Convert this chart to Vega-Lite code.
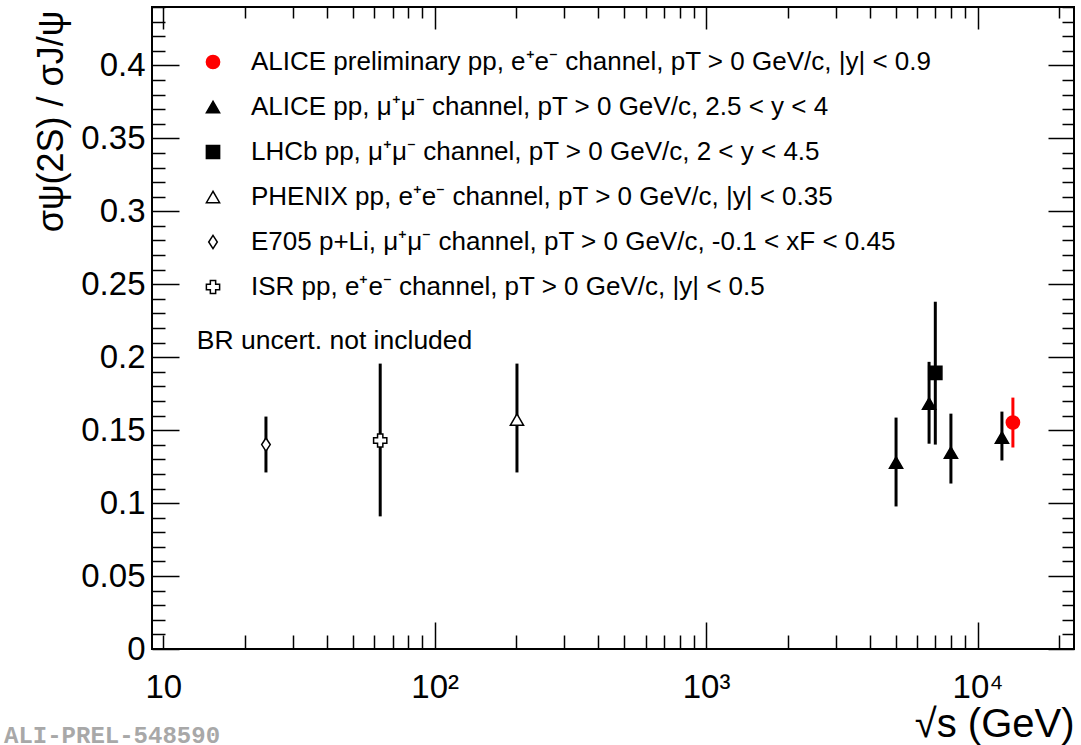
{
  "$schema": "https://vega.github.io/schema/vega-lite/v6.json",
  "width": 922,
  "height": 642,
  "autosize": {"type": "none"},
  "padding": {"left": 152, "top": 7, "right": 7, "bottom": 96},
  "background": "white",
  "config": {
    "font": "Liberation Sans",
    "view": {"stroke": "black", "strokeWidth": 2},
    "axis": {
      "domain": false, "grid": false, "labelFont": "Liberation Sans", "titleFont": "Liberation Sans",
      "tickColor": "black", "tickWidth": 1.5, "labelColor": "black", "titleColor": "black",
      "titleFontWeight": "normal", "labelFlush": false, "labelOverlap": false, "labelBound": false
    }
  },
  "title": {
    "text": "ALI-PREL-548590", "orient": "bottom", "anchor": "start", "frame": "group",
    "font": "Liberation Mono", "fontWeight": "bold", "fontSize": 24, "color": "#a8a8a8",
    "dx": -148, "offset": -20
  },
  "data": {
    "values": [
      {"series": "ALICE preliminary pp, e⁺e⁻ channel, pT > 0 GeV/c, |y| < 0.9", "sqrt_s": 13500, "ratio": 0.1552, "lo": 0.1381, "hi": 0.1723},
      {"series": "ALICE pp, μ⁺μ⁻ channel, pT > 0 GeV/c, 2.5 < y < 4", "sqrt_s": 5010, "ratio": 0.1278, "lo": 0.0977, "hi": 0.1586},
      {"series": "ALICE pp, μ⁺μ⁻ channel, pT > 0 GeV/c, 2.5 < y < 4", "sqrt_s": 6630, "ratio": 0.1682, "lo": 0.1407, "hi": 0.1968},
      {"series": "ALICE pp, μ⁺μ⁻ channel, pT > 0 GeV/c, 2.5 < y < 4", "sqrt_s": 7980, "ratio": 0.1346, "lo": 0.1134, "hi": 0.1613},
      {"series": "ALICE pp, μ⁺μ⁻ channel, pT > 0 GeV/c, 2.5 < y < 4", "sqrt_s": 12300, "ratio": 0.1449, "lo": 0.1292, "hi": 0.1627},
      {"series": "LHCb pp, μ⁺μ⁻ channel, pT > 0 GeV/c, 2 < y < 4.5", "sqrt_s": 6990, "ratio": 0.1892, "lo": 0.1401, "hi": 0.2380},
      {"series": "PHENIX pp, e⁺e⁻ channel, pT > 0 GeV/c, |y| < 0.35", "sqrt_s": 201, "ratio": 0.1572, "lo": 0.1210, "hi": 0.1956},
      {"series": "E705 p+Li, μ⁺μ⁻ channel, pT > 0 GeV/c, -0.1 < xF < 0.45", "sqrt_s": 23.9, "ratio": 0.1401, "lo": 0.1210, "hi": 0.1593},
      {"series": "ISR pp, e⁺e⁻ channel, pT > 0 GeV/c, |y| < 0.5", "sqrt_s": 63.0, "ratio": 0.1429, "lo": 0.0909, "hi": 0.1956}
    ]
  },
  "layer": [
    {
      "mark": {"type": "rule", "strokeWidth": 3},
      "encoding": {
        "x": {
          "field": "sqrt_s", "type": "quantitative",
          "scale": {"type": "log", "domain": [9.09, 22670], "nice": false},
          "axis": {
            "orient": "bottom",
            "values": [10,20,30,40,50,60,70,80,90,100,200,300,400,500,600,700,800,900,1000,2000,3000,4000,5000,6000,7000,8000,9000,10000,20000],
            "labelExpr": "datum.value == 10 ? '10' : datum.value == 100 ? '10²' : datum.value == 1000 ? '10³' : datum.value == 10000 ? '10⁴' : ''",
            "labelFontSize": 33,
            "labelPadding": {"condition": {"test": "datum.value == 10", "value": 36}, "value": 49},
            "tickSize": {"condition": {"test": "datum.value == 100 || datum.value == 1000 || datum.value == 10000", "value": -27}, "value": -14},
            "title": "√s (GeV)", "titleFontSize": 40, "titleAnchor": "end", "titleAlign": "right",
            "titleBaseline": "alphabetic", "titleX": 922, "titleY": 87
          }
        },
        "y": {
          "field": "lo", "type": "quantitative",
          "scale": {"domain": [0, 0.44], "nice": false, "zero": false},
          "axis": {
            "orient": "left",
            "values": [0,0.01,0.02,0.03,0.04,0.05,0.06,0.07,0.08,0.09,0.1,0.11,0.12,0.13,0.14,0.15,0.16,0.17,0.18,0.19,0.2,0.21,0.22,0.23,0.24,0.25,0.26,0.27,0.28,0.29,0.3,0.31,0.32,0.33,0.34,0.35,0.36,0.37,0.38,0.39,0.4,0.41,0.42,0.43,0.44],
            "labelExpr": "abs(datum.value*20 - round(datum.value*20)) < 1e-6 ? '' + round(datum.value*100)/100 : ''",
            "labelFontSize": 33, "labelPadding": 34, "labelBaseline": "middle",
            "tickSize": {"condition": {"test": "abs(datum.value*20 - round(datum.value*20)) < 1e-6", "value": -27}, "value": -13},
            "title": "σψ(2S) / σJ/ψ", "titleFontSize": 36, "titleAngle": -90, "titleAnchor": "end",
            "titleAlign": "right", "titleBaseline": "alphabetic", "titleX": -90, "titleY": 3
          }
        },
        "y2": {"field": "hi"},
        "color": {"condition": {"test": "indexof(datum.series, 'preliminary') >= 0", "value": "#ff0000"}, "value": "black"}
      }
    },
    {
      "mark": {"type": "point", "opacity": 1, "strokeWidth": 1.5, "size": 175},
      "encoding": {
        "x": {
          "field": "sqrt_s", "type": "quantitative",
          "axis": {
            "orient": "top", "labels": false, "title": null,
            "values": [10,20,30,40,50,60,70,80,90,100,200,300,400,500,600,700,800,900,1000,2000,3000,4000,5000,6000,7000,8000,9000,10000,20000],
            "tickSize": {"condition": {"test": "datum.value == 10 || datum.value == 100 || datum.value == 1000 || datum.value == 10000", "value": -22}, "value": -11}
          }
        },
        "y": {
          "field": "ratio", "type": "quantitative",
          "axis": {
            "orient": "right", "labels": false, "title": null,
            "values": [0,0.01,0.02,0.03,0.04,0.05,0.06,0.07,0.08,0.09,0.1,0.11,0.12,0.13,0.14,0.15,0.16,0.17,0.18,0.19,0.2,0.21,0.22,0.23,0.24,0.25,0.26,0.27,0.28,0.29,0.3,0.31,0.32,0.33,0.34,0.35,0.36,0.37,0.38,0.39,0.4,0.41,0.42,0.43,0.44],
            "tickSize": {"condition": {"test": "abs(datum.value*20 - round(datum.value*20)) < 1e-6", "value": -26}, "value": -12}
          }
        },
        "shape": {
          "field": "series", "type": "nominal",
          "scale": {
            "domain": ["ALICE preliminary pp, e⁺e⁻ channel, pT > 0 GeV/c, |y| < 0.9", "ALICE pp, μ⁺μ⁻ channel, pT > 0 GeV/c, 2.5 < y < 4", "LHCb pp, μ⁺μ⁻ channel, pT > 0 GeV/c, 2 < y < 4.5", "PHENIX pp, e⁺e⁻ channel, pT > 0 GeV/c, |y| < 0.35", "E705 p+Li, μ⁺μ⁻ channel, pT > 0 GeV/c, -0.1 < xF < 0.45", "ISR pp, e⁺e⁻ channel, pT > 0 GeV/c, |y| < 0.5"],
            "range": ["circle", "triangle-up", "square", "triangle-up", "M0,-1L0.65,0L0,1L-0.65,0Z", "cross"]
          },
          "legend": {
            "title": null, "orient": "none", "legendX": 48, "legendY": 42, "padding": 0,
            "labelFontSize": 26, "labelFont": "Liberation Sans", "labelColor": "black", "labelLimit": 0,
            "rowPadding": 19, "labelOffset": 25, "symbolStrokeWidth": 1.5, "symbolSize": 175, "symbolOpacity": 1
          }
        },
        "fill": {
          "field": "series", "type": "nominal",
          "scale": {
            "domain": ["ALICE preliminary pp, e⁺e⁻ channel, pT > 0 GeV/c, |y| < 0.9", "ALICE pp, μ⁺μ⁻ channel, pT > 0 GeV/c, 2.5 < y < 4", "LHCb pp, μ⁺μ⁻ channel, pT > 0 GeV/c, 2 < y < 4.5", "PHENIX pp, e⁺e⁻ channel, pT > 0 GeV/c, |y| < 0.35", "E705 p+Li, μ⁺μ⁻ channel, pT > 0 GeV/c, -0.1 < xF < 0.45", "ISR pp, e⁺e⁻ channel, pT > 0 GeV/c, |y| < 0.5"],
            "range": ["#ff0000", "black", "black", "white", "white", "white"]
          }
        },
        "stroke": {
          "field": "series", "type": "nominal",
          "scale": {
            "domain": ["ALICE preliminary pp, e⁺e⁻ channel, pT > 0 GeV/c, |y| < 0.9", "ALICE pp, μ⁺μ⁻ channel, pT > 0 GeV/c, 2.5 < y < 4", "LHCb pp, μ⁺μ⁻ channel, pT > 0 GeV/c, 2 < y < 4.5", "PHENIX pp, e⁺e⁻ channel, pT > 0 GeV/c, |y| < 0.35", "E705 p+Li, μ⁺μ⁻ channel, pT > 0 GeV/c, -0.1 < xF < 0.45", "ISR pp, e⁺e⁻ channel, pT > 0 GeV/c, |y| < 0.5"],
            "range": ["#ff0000", "black", "black", "black", "black", "black"]
          }
        }
      }
    },
    {
      "data": {"values": [{"note": "BR uncert. not included"}]},
      "mark": {"type": "text", "align": "left", "baseline": "middle", "fontSize": 26.5, "font": "Liberation Sans", "color": "black"},
      "encoding": {
        "x": {"datum": 13.3, "type": "quantitative", "axis": null},
        "y": {"datum": 0.2113, "type": "quantitative", "axis": null},
        "text": {"field": "note"}
      }
    }
  ],
  "resolve": {"axis": {"x": "independent", "y": "independent"}}
}
